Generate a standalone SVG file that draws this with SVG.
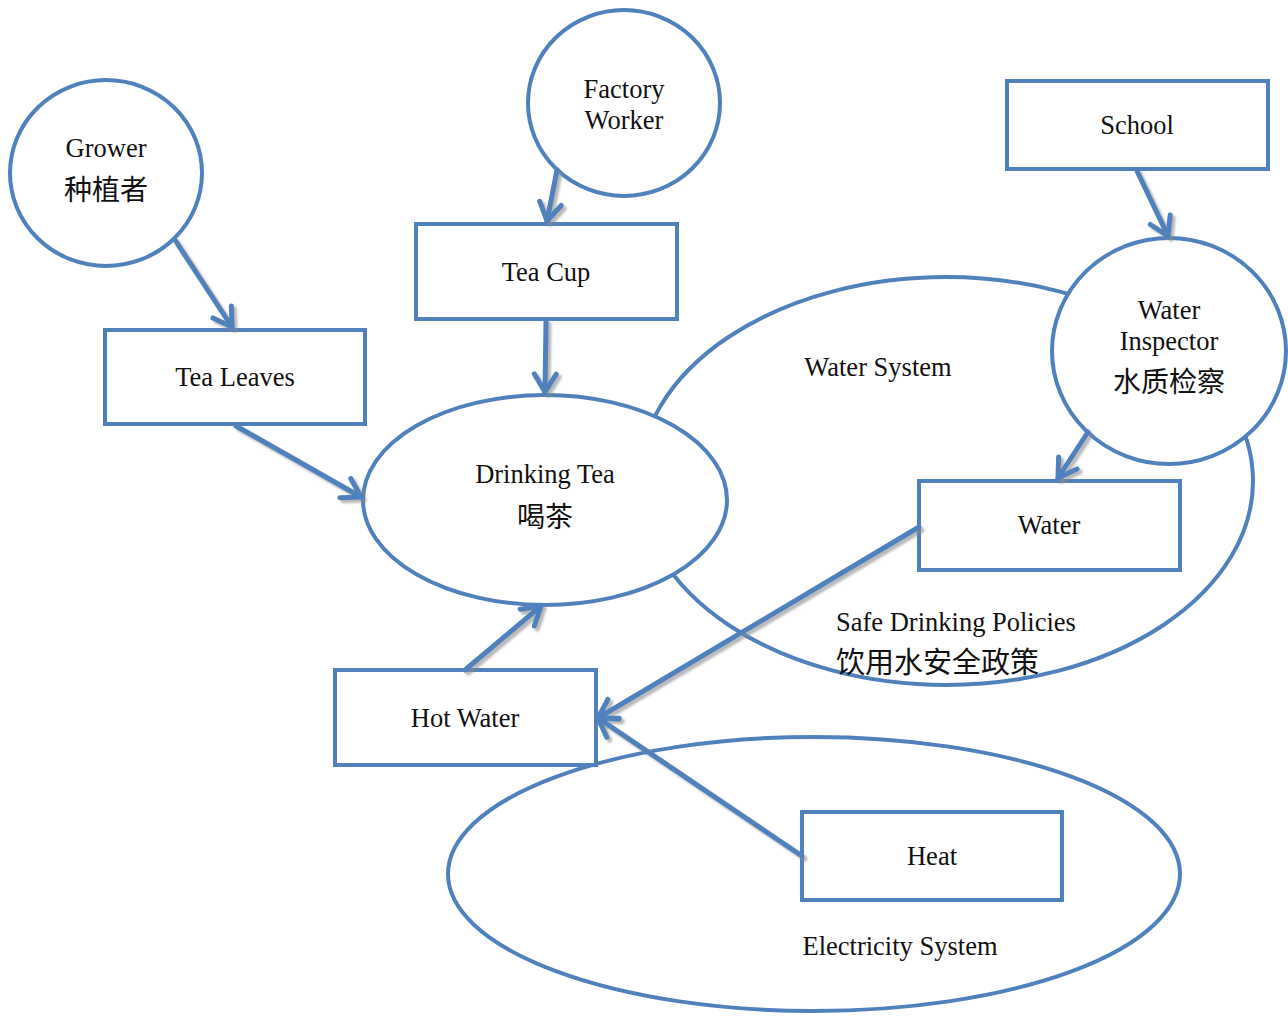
<svg xmlns="http://www.w3.org/2000/svg" width="1288" height="1016" viewBox="0 0 1288 1016">
<style>
.shape{fill:#fff;stroke:#4f81bd;stroke-width:4}
.ring{fill:none;stroke:#4f81bd;stroke-width:4}
.t{font-family:"Liberation Serif","DejaVu Serif",serif;font-size:26.5px;fill:#111;text-anchor:middle}
.c{font-family:"Noto Sans CJK SC",sans-serif;font-size:28px;fill:#111;text-anchor:middle}
.l{text-anchor:start}
.edge{fill:none;stroke:#4f81bd;stroke-width:5;stroke-linecap:round;marker-end:url(#arr)}
</style>
<defs>
<marker id="arr" markerUnits="userSpaceOnUse" orient="auto" refX="0" refY="0" markerWidth="40" markerHeight="40" viewBox="-25 -20 40 40" overflow="visible">
<path d="M -18 -11 L 0 0 L -18 11" fill="none" stroke="#4f81bd" stroke-width="5" stroke-linecap="round" stroke-linejoin="round"/>
</marker>
<filter id="sh" x="-20%" y="-20%" width="140%" height="140%">
<feDropShadow dx="3" dy="3" stdDeviation="1" flood-color="#888" flood-opacity="0.6"/>
</filter>
</defs>
<rect width="1288" height="1016" fill="#fff"/>
<g id="water-system">
<ellipse class="ring" cx="946" cy="481" rx="307" ry="204"/>
<text class="t" x="878" y="376">Water System</text>
</g>
<g id="electricity-system">
<ellipse class="ring" cx="814" cy="874" rx="366" ry="137"/>
<text class="t" x="900" y="955">Electricity System</text>
</g>
<g id="safe-drinking-policies">
<text class="t l" x="836" y="631">Safe Drinking Policies</text>
<text class="c l" x="836" y="673" style="font-size:29px">饮用水安全政策</text>
</g>
<g id="grower">
<ellipse class="shape" cx="106" cy="173" rx="96" ry="93"/>
<text class="t" x="106" y="157">Grower</text>
<text class="c" x="106" y="200">种植者</text>
</g>
<g id="factory-worker">
<ellipse class="shape" cx="624" cy="103" rx="96" ry="93"/>
<text class="t" x="624" y="98">Factory</text>
<text class="t" x="624" y="129">Worker</text>
</g>
<g id="school">
<rect class="shape" x="1007" y="81" width="261" height="88"/>
<text class="t" x="1137" y="134">School</text>
</g>
<g id="tea-cup">
<rect class="shape" x="416" y="224" width="261" height="95"/>
<text class="t" x="546" y="281">Tea Cup</text>
</g>
<g id="tea-leaves">
<rect class="shape" x="105" y="330" width="260" height="94"/>
<text class="t" x="235" y="386">Tea Leaves</text>
</g>
<g id="drinking-tea">
<ellipse class="shape" cx="545" cy="500" rx="182" ry="105"/>
<text class="t" x="545" y="483">Drinking Tea</text>
<text class="c" x="545" y="527">喝茶</text>
</g>
<g id="water-inspector">
<ellipse class="shape" cx="1169" cy="351" rx="117" ry="113"/>
<text class="t" x="1169" y="319">Water</text>
<text class="t" x="1169" y="350">Inspector</text>
<text class="c" x="1169" y="392">水质检察</text>
</g>
<g id="water">
<rect class="shape" x="919" y="481" width="261" height="89"/>
<text class="t" x="1049" y="534">Water</text>
</g>
<g id="hot-water">
<rect class="shape" x="335" y="670" width="261" height="95"/>
<text class="t" x="465" y="727">Hot Water</text>
</g>
<g id="heat">
<rect class="shape" x="802" y="812" width="260" height="88"/>
<text class="t" x="932" y="865">Heat</text>
</g>
<g id="connectors" filter="url(#sh)">
<line class="edge" x1="175" y1="240" x2="232" y2="327"/>
<line class="edge" x1="236" y1="426" x2="361" y2="497"/>
<line class="edge" x1="557" y1="170" x2="547" y2="221"/>
<line class="edge" x1="546" y1="321" x2="545" y2="392"/>
<line class="edge" x1="1137" y1="171" x2="1168" y2="236"/>
<line class="edge" x1="1088" y1="432" x2="1058" y2="478"/>
<line class="edge" x1="919" y1="527" x2="598" y2="718"/>
<line class="edge" x1="802" y1="856" x2="598" y2="718"/>
<line class="edge" x1="465" y1="670" x2="541" y2="606"/>
</g>
</svg>
